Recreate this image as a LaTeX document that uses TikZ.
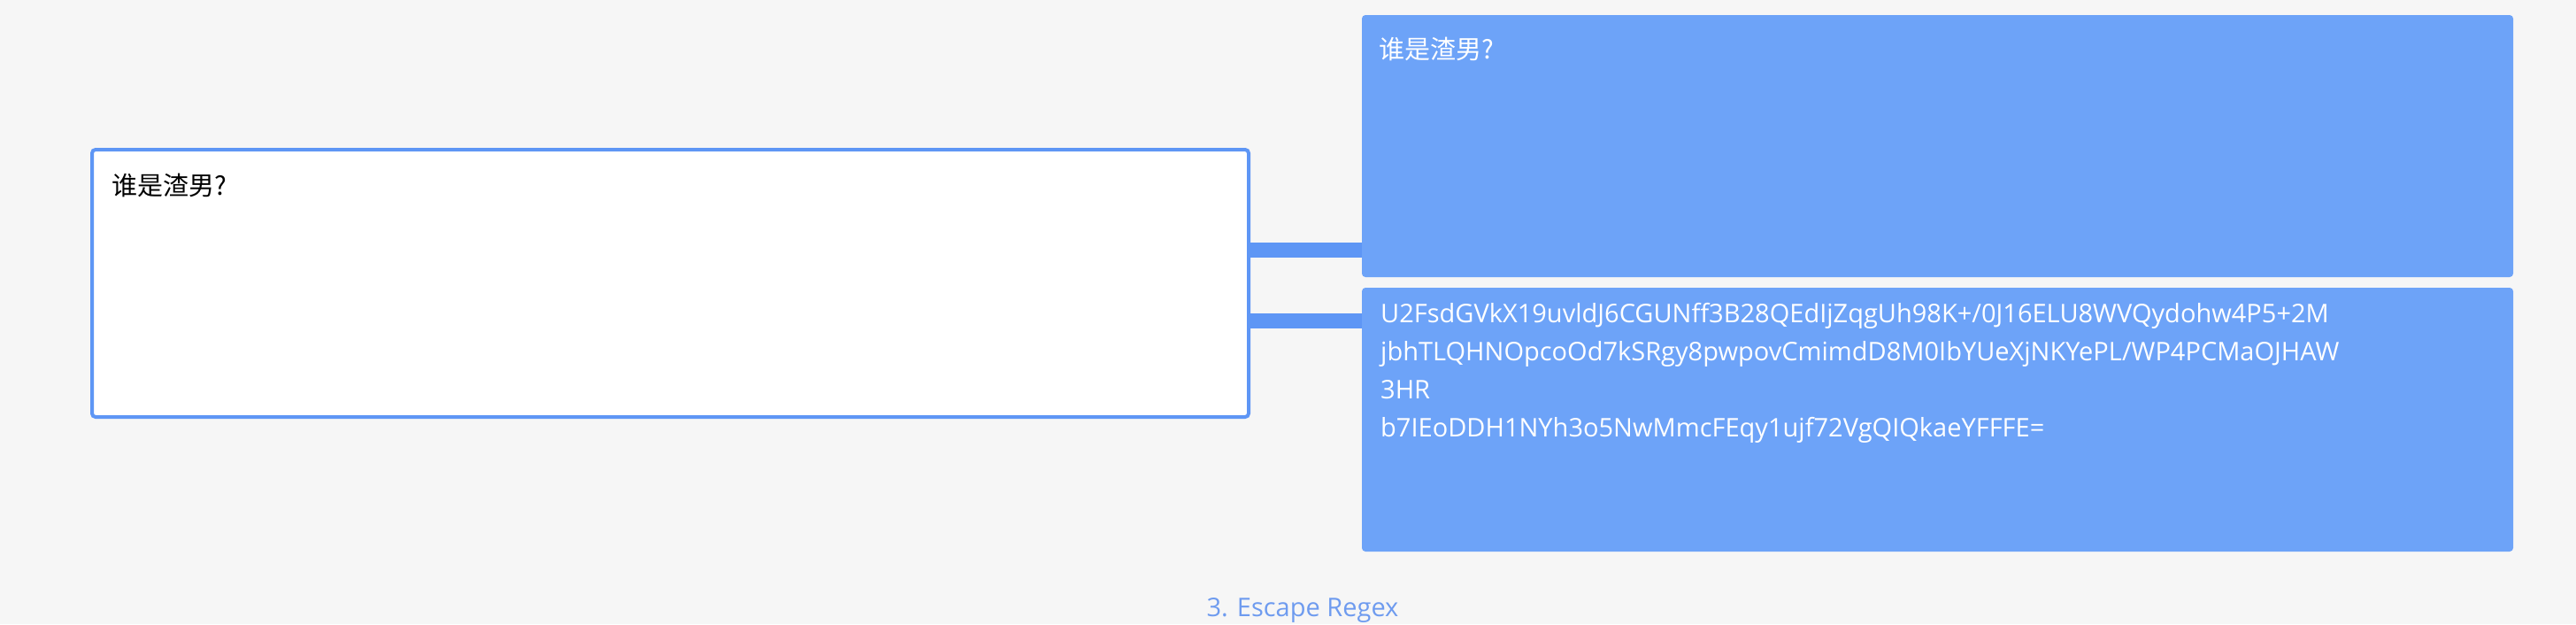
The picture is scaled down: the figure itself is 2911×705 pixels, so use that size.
\documentclass[tikz,border=0pt]{standalone}
\usepackage{fontspec}
\setmainfont{Open Sans}
\newfontfamily\cjk{Noto Sans CJK SC}
\definecolor{bg}{HTML}{F6F6F6}
\definecolor{bfill}{HTML}{6DA3F8}
\definecolor{bline}{HTML}{5E96F5}
\definecolor{lbl}{HTML}{6E9BEF}
\tikzset{
  box/.style={rounded corners=4pt, inner sep=0pt},
  conn/.style={draw=bline, line width=17pt},
  txt/.style={anchor=north west, inner sep=0pt, font=\fontsize{29}{43}\selectfont, align=left}
}
\begin{document}
\begin{tikzpicture}[x=1pt,y=-1pt]
\fill[bg] (0,0) rectangle (2911,705);
\useasboundingbox (0,0) rectangle (2911,705);
\draw[conn] (1411,282) -- (1539,282);
\draw[conn] (1411,362) -- (1539,362);
\filldraw[box, draw=bline, fill=white, line width=4pt] (104,169) rectangle (1411,471);
\fill[box, bfill] (1539,17) rectangle (2840,313);
\fill[box, bfill] (1539,325) rectangle (2840,623);
\node[txt] (a) at (126,196) {\cjk 谁是渣男?};
\node[txt, text=white] (b) at (1558,42) {\cjk 谁是渣男?};
\node[txt, text=white] (c) at (1560,342) {U2FsdGVkX19uvldJ6CGUNff3B28QEdIjZqgUh98K+/0J16ELU8WVQydohw4P5+2M\\jbhTLQHNOpcoOd7kSRgy8pwpovCmimdD8M0IbYUeXjNKYePL/WP4PCMaOJHAW\\3HR\\b7IEoDDH1NYh3o5NwMmcFEqy1ujf72VgQIQkaeYFFFE=};
\node[anchor=north, inner sep=0pt, text=lbl, font=\fontsize{29}{35}\selectfont] (d) at (1472,675) {3. Escape Regex};
\end{tikzpicture}
\end{document}
